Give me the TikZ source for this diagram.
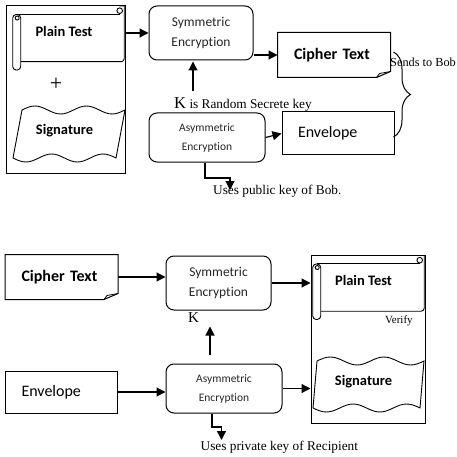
\documentclass[tikz,border=0pt]{standalone}
\usepackage{fontspec}
\setmainfont{Liberation Serif}
\newfontfamily\boxfont[Ligatures=NoCommon]{Carlito}
\usepackage{tikz}
\usetikzlibrary{arrows.meta,calc,decorations.pathreplacing}

% scroll round the plain text, #1/#2 is its top left corner
\newcommand{\plainscroll}[2]{%
  \begin{scope}[shift={(#1,#2)}, line width=0.9pt]
    \draw (107,0) -- (111.5,0) [rounded corners=3pt] -- (111.5,55.7) -- (8,55.7);
    \draw (4,8) -- (107,8);
    \draw (107,4.7) circle[radius=2.8pt];
    \draw[rounded corners=3.5pt, fill=white] (0,8.5) rectangle (8,64);
    \draw (4.5,12) circle[radius=2pt];
  \end{scope}}

% wavy sheet of the signature
\newcommand{\sigwave}[5]{%
  \draw[line width=0.9pt] plot[smooth, domain=0:1, samples=33, variable=\t] ({#1+#5*\t},{#2-4*sin(720*\t)})
    -- plot[smooth, domain=1:0, samples=33, variable=\t] ({#3+#5*\t},{#4+4*sin(720*\t)}) -- cycle;}

% page with a folded corner round a node
\newcommand{\foldedge}[1]{%
  \draw[line width=1pt] (#1.north west) -- (#1.north east) -- ([yshift=6pt]#1.south east)
    -- ([xshift=-14pt]#1.south east) -- (#1.south west) -- cycle;
  \draw[line width=0.8pt] ([xshift=-14pt]#1.south east) -- ([xshift=-11pt,yshift=4pt]#1.south east) -- ([yshift=6pt]#1.south east);}

\begin{document}
\begin{tikzpicture}[x=1pt,y=-1pt]
  \tikzstyle{arr}=[-{Triangle[length=9pt,width=9pt]}, line width=1.2pt]
  \tikzstyle{encbox}=[draw, line width=1pt, rounded corners=8pt, align=center, text=black!85, inner sep=0pt]
  \tikzstyle{docbox}=[line width=1pt, text width=80pt, inner xsep=16pt, inner ysep=0pt, align=left, font=\boxfont\fontsize{16}{19}\selectfont]
  \tikzstyle{sheet}=[font=\boxfont\bfseries\fontsize{14.5}{17}\selectfont]
  \tikzstyle{note}=[inner sep=0pt, anchor=base west, font=\fontsize{13.3}{15}\selectfont]

  \useasboundingbox (0,0) rectangle (457,457);

  % sender
  \node[draw, line width=1pt, minimum width=119pt, minimum height=167pt] (msg1) at (65.5,89.5) {};
  \node[draw, line width=1pt, minimum width=114pt, minimum height=168pt] (msg2) at (368,339) {};
  \foreach \ox/\oy in {12.7/6, 312.7/255.5} {
    \plainscroll{\ox}{\oy}
  }
  \foreach \ax/\ay/\bx/\by/\w in {22/110/13/158/103, 317/361/313/408/107} {
    \sigwave{\ax}{\ay}{\bx}{\by}{\w}
  }
  \node[sheet] (plain1) at (64,31) {Plain Test};
  \node[font=\fontsize{22}{22}\selectfont, inner sep=0pt] (plus) at (56,84) {+};
  \node[sheet] (sig1) at (64.5,131) {Signature};

  \node[encbox, minimum width=104pt, minimum height=54pt, font=\boxfont\fontsize{13.5}{20}\selectfont] (sym1) at (201,33) {Symmetric\\Encryption};
  \node[encbox, minimum width=116pt, minimum height=49pt, font=\boxfont\fontsize{11.5}{19}\selectfont] (asym1) at (207,137.5) {Asymmetric\\Encryption};
  \node[docbox, minimum height=44pt, font=\boxfont\bfseries\fontsize{16}{19}\selectfont] (cipher1) at (334,55) {Cipher Text};
  \foldedge{cipher1}
  \node[docbox, draw, minimum height=43pt] (env1) at (338,133.5) {Envelope};

  \node[note] (ktext) at (174,109) {{\fontsize{16.6}{18}\selectfont K} is Random Secrete key};
  \node[note, font=\fontsize{12.3}{14}\selectfont] (sends) at (390,67) {Sends to Bob};
  \node[note] (pubkey) at (213,194) {Uses public key of Bob.};
  \coordinate (pubA) at (230,190);

  \draw[arr] (msg1.east |- sym1) -- (sym1);
  \draw[arr] (sym1.east |- cipher1.west) -- (cipher1.west);
  \draw[arr, shorten >=1pt] ($(ktext.north -| sym1.south)+(-8,-7)$) -- ($(sym1.south)+(-8,0)$);
  \draw[arr] (asym1.east) -- (env1.west);
  \draw[arr] ($(asym1.south)+(-2,0)$) |- ($(pubA)+(0,-12)$) -- (pubA);
  \draw[line width=1pt, decorate, decoration={brace, amplitude=17pt}] ($(cipher1.east)+(3,-3)$) -- ($(env1.east)+(-1,3.5)$);

  % recipient
  \node[docbox, minimum height=44pt, font=\boxfont\bfseries\fontsize{16}{19}\selectfont] (cipher2) at (61.5,277) {Cipher Text};
  \foldedge{cipher2}
  \node[docbox, draw, minimum height=42pt] (env2) at (61.5,392) {Envelope};
  \node[encbox, minimum width=105pt, minimum height=54pt, font=\boxfont\fontsize{13.5}{20}\selectfont] (sym2) at (218.5,283) {Symmetric\\Encryption};
  \node[encbox, minimum width=116pt, minimum height=49pt, font=\boxfont\fontsize{11.5}{19}\selectfont] (asym2) at (224,388.5) {Asymmetric\\Encryption};
  \node[font=\fontsize{15}{16}\selectfont, inner sep=0pt] (k2) at (193.5,318) {K};

  \node[sheet] (plain2) at (363.5,280.5) {Plain Test};
  \node[sheet] (sig2) at (363.5,382) {Signature};
  \node[note, font=\fontsize{11}{13}\selectfont] (verify) at (385,323) {Verify};
  \node[note] (privkey) at (200.5,450) {Uses private key of Recipient};
  \coordinate (privA) at (221.5,440);

  \draw[arr] (cipher2.east) -- (sym2.west |- cipher2.east);
  \draw[arr] (env2.east) -- (asym2.west |- env2.east);
  \draw[arr] ($(asym2.north)+(-14,-9)$) -- ($(asym2.north)+(-14,-37)$);
  \draw[arr] (sym2.east) -- (msg2.west |- sym2.east);
  \draw[arr] (asym2.east) -- (msg2.west |- asym2.east);
  \draw[arr] ($(asym2.south)+(-12,0)$) |- ($(privA)+(0,-13)$) -- (privA);
\end{tikzpicture}
\end{document}
